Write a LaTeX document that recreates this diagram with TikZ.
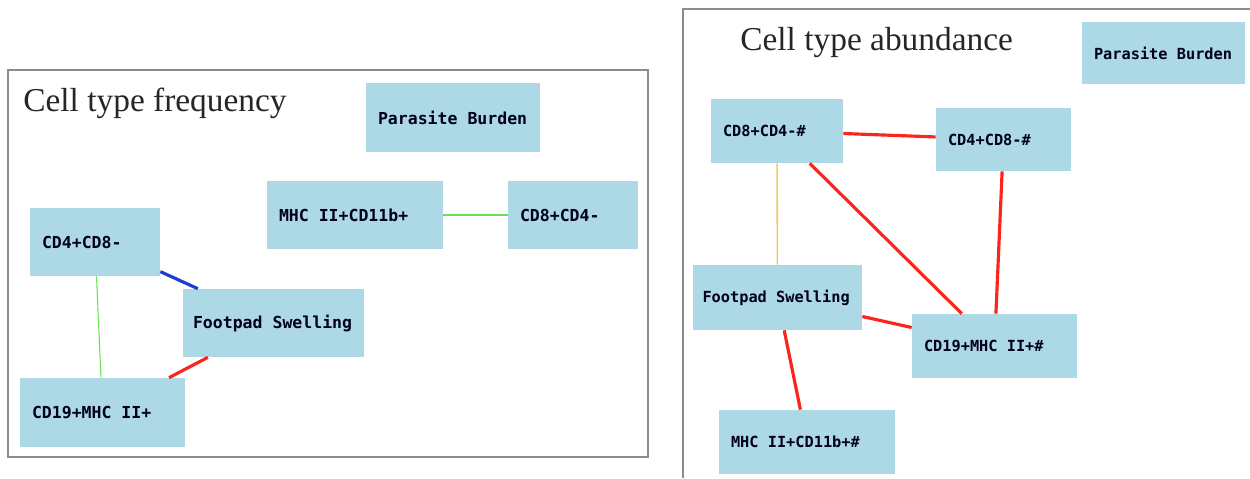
\documentclass[tikz,border=0pt]{standalone}
\usepackage{fontspec}
\setmainfont{Liberation Serif}
\newfontfamily\cellfont{DejaVu Sans Mono}
\usepackage{tikz}
\definecolor{cellblue}{RGB}{173,216,230}
\definecolor{linkred}{RGB}{250,38,28}
\definecolor{linkgreen}{RGB}{110,220,90}
\definecolor{linkblue}{RGB}{30,60,210}
\definecolor{linkyellow}{RGB}{245,200,100}
\definecolor{framegray}{RGB}{140,140,140}
\tikzset{
	cell/.style={rectangle,fill=cellblue,inner xsep=0.24cm,inner ysep=0pt,text width=#1,align=flush left,font=\cellfont\bfseries\fontsize{9.4}{11}\selectfont,text=black!90!blue},
	cellb/.style={cell=#1,font=\cellfont\bfseries\fontsize{8.7}{11}\selectfont},
	heading/.style={anchor=base west,inner sep=0pt,font=\fontsize{19}{22}\selectfont,text=black!85},
	thin/.style={line width=0.6pt},
	thick/.style={line width=1.8pt}
}

\begin{document}
\begin{tikzpicture}[x=0.02cm,y=-0.02cm]
						\useasboundingbox (0,0) rectangle (1250,478);

						% Cell type frequency
						\draw [framegray,line width=0.8pt] (8,70) rectangle (648,457);
						\node [heading] (titleA) at (23,111) {Cell type frequency};
						\node [cell=3.0cm,minimum height=1.38cm] (pbA) at (453,117.5) {Parasite Burden};
						\node [cell=3.04cm,minimum height=1.36cm] (mhcA) at (355,215) {MHC II+CD11b+};
						\node [cell=2.12cm,minimum height=1.36cm] (cdeA) at (573,215) {CD8+CD4-};
						\node [cell=2.12cm,minimum height=1.36cm] (cdfA) at (95,242) {CD4+CD8-};
						\node [cell=3.22cm,inner xsep=0.2cm,minimum height=1.36cm] (fpA) at (273.5,323) {Footpad Swelling};
						\node [cell=2.82cm,minimum height=1.38cm] (cdnA) at (102.5,412.5) {CD19+MHC II+};

						\draw [linkgreen,thin] (mhcA) -- (cdeA);
						\draw [linkgreen,thin] (cdfA) -- (cdnA);
						\draw [linkblue,thick] (cdfA) -- (fpA);
						\draw [linkred,thick] (fpA) -- (cdnA);

						% Cell type abundance
						\draw [framegray,line width=0.8pt] (1250,9) -- (683,9) -- (683,478);
						\node [heading] (titleB) at (740,50) {Cell type abundance};
						\node [cellb=2.78cm,minimum height=1.24cm] (pbB) at (1163.5,53) {Parasite Burden};
						\node [cellb=2.16cm,minimum height=1.28cm] (cdeB) at (777,131) {CD8+CD4-\#};
						\node [cellb=2.22cm,minimum height=1.26cm] (cdfB) at (1003.5,139.5) {CD4+CD8-\#};
						\node [cellb=3.0cm,inner xsep=0.19cm,minimum height=1.3cm] (fpB) at (777.5,297.5) {Footpad Swelling};
						\node [cellb=2.82cm,minimum height=1.28cm] (cdnB) at (994.5,346) {CD19+MHC II+\#};
						\node [cellb=3.04cm,minimum height=1.28cm] (mhcB) at (807,442) {MHC II+CD11b+\#};

						\draw [linkyellow,line width=0.9pt] (cdeB) -- (fpB);
						\draw [linkred,thick] (cdeB) -- (cdfB);
						\draw [linkred,thick] (cdeB) -- (cdnB);
						\draw [linkred,thick] (cdfB) -- (cdnB);
						\draw [linkred,thick] (fpB) -- (cdnB);
						\draw [linkred,thick] (fpB) -- (mhcB);
					\end{tikzpicture}
\end{document}
